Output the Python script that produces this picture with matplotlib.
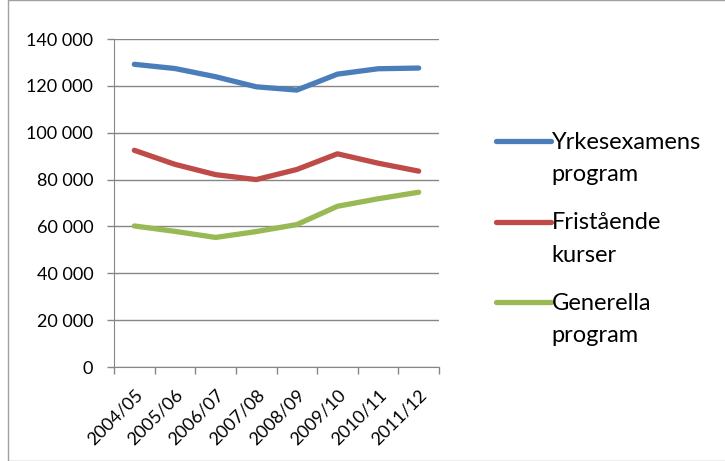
import matplotlib
matplotlib.use('Agg')
import matplotlib.pyplot as plt
from matplotlib.ticker import FuncFormatter, FixedLocator
from matplotlib.patches import Rectangle
from matplotlib.legend_handler import HandlerLine2D

years = ['2004/05', '2005/06', '2006/07', '2007/08', '2008/09', '2009/10', '2010/11', '2011/12']
yrkes = [129200, 127400, 123900, 119600, 118200, 125000, 127300, 127600]
fristaende = [92500, 86500, 82100, 80000, 84300, 91000, 87000, 83600]
generella = [60200, 57900, 55300, 57800, 60800, 68600, 71800, 74600]
labels = ['Yrkesexamens\nprogram', 'Fristående\nkurser', 'Generella\nprogram']
colors = ['#4A7EBB', '#BE4B48', '#98B954']

plt.rcParams['font.family'] = ['Lato', 'DejaVu Sans']


# legend line sits beside the first text line, like Excel does
class TopLine(HandlerLine2D):
    def create_artists(self, legend, orig_handle, xdescent, ydescent,
                       width, height, fontsize, trans):
        arts = super().create_artists(legend, orig_handle, xdescent, ydescent,
                                      width, height, fontsize, trans)
        for a in arts:
            a.set_ydata([y + 0.75 * fontsize for y in a.get_ydata()])
        return arts


fig = plt.figure(figsize=(7.25, 4.61), dpi=100)
ax = fig.add_axes([114/725, 1-367/461, (439-114)/725, (367-39)/461])

x = range(len(years))
for vals, lab, c in zip([yrkes, fristaende, generella], labels, colors):
    ax.plot(x, vals, color=c, lw=3.8, label=lab, solid_capstyle='round')

ax.set_xlim(-0.5, len(years) - 0.5)
ax.set_ylim(0, 140000)
ax.set_yticks(range(0, 140001, 20000))
ax.yaxis.set_major_formatter(FuncFormatter(lambda v, p: f'{int(v):,}'.replace(',', ' ')))
ax.set_xticks(list(x))
ax.set_xticklabels(years, rotation=45, ha='right', rotation_mode='anchor', fontsize=13)
ax.xaxis.set_minor_locator(FixedLocator([i - 0.5 for i in range(len(years) + 1)]))
ax.tick_params(axis='x', which='major', length=0, pad=14)
ax.tick_params(axis='x', which='minor', length=5, color='#868686', width=1)
ax.tick_params(axis='y', length=5, color='#868686', width=1, labelsize=13, pad=10)
ax.grid(axis='y', color='#868686', lw=1)
ax.set_axisbelow(True)
for s in ['top', 'right']:
    ax.spines[s].set_visible(False)
for s in ['left', 'bottom']:
    ax.spines[s].set_color('#868686')

leg = fig.legend(loc='upper left', bbox_to_anchor=(475/725, 1-111/461), frameon=False,
                 fontsize=17, handlelength=2.3, handletextpad=0.05, labelspacing=1.15,
                 handler_map={plt.Line2D: TopLine()})
for t in leg.get_texts():
    t.set_linespacing(1.65)

fig.patches.append(Rectangle((8/725, 0), 1, 1, transform=fig.transFigure,
                             fill=False, edgecolor='#A0A0A0', lw=1))

fig.savefig('out.png', dpi=100)
